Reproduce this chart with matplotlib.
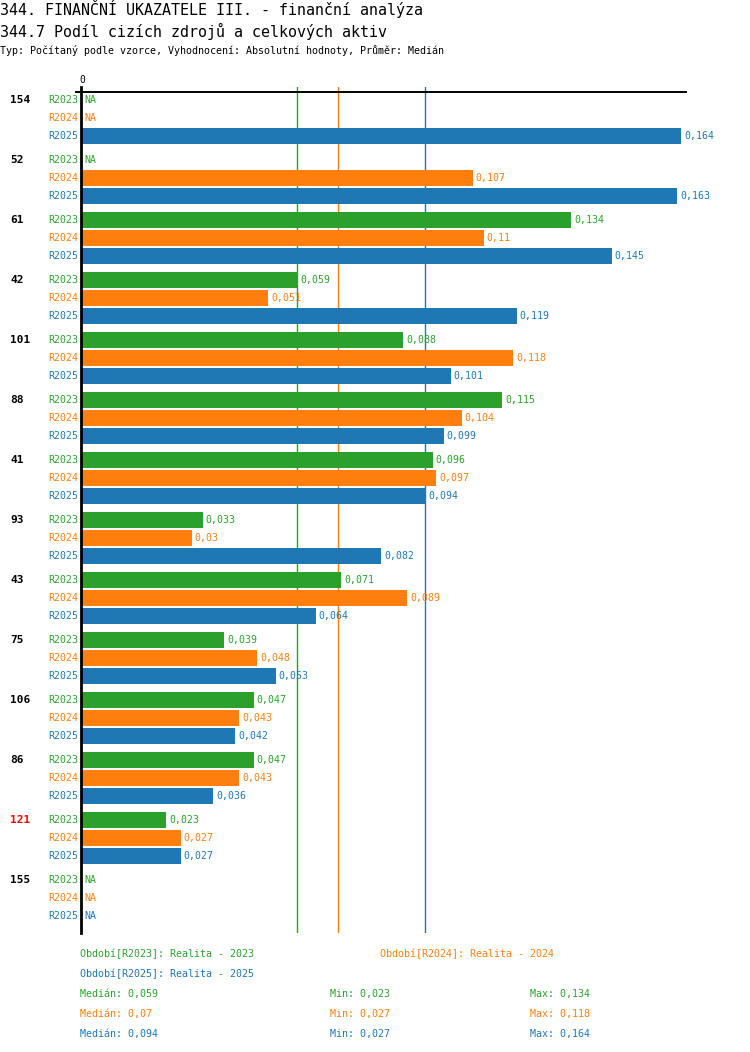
import numpy as np
import matplotlib.pyplot as plt

# data
groups = ['154', '52', '61', '42', '101', '88', '41', '93', '43', '75', '106', '86', '121', '155']
highlight = '121'
series = ['R2023', 'R2024', 'R2025']
r2023 = [np.nan, np.nan, 0.134, 0.059, 0.088, 0.115, 0.096, 0.033, 0.071, 0.039, 0.047, 0.047, 0.023, np.nan]
r2024 = [np.nan, 0.107, 0.11, 0.051, 0.118, 0.104, 0.097, 0.03, 0.089, 0.048, 0.043, 0.043, 0.027, np.nan]
r2025 = [0.164, 0.163, 0.145, 0.119, 0.101, 0.099, 0.094, 0.082, 0.064, 0.053, 0.042, 0.036, 0.027, np.nan]
period_names = ['Realita - 2023', 'Realita - 2024', 'Realita - 2025']

title1 = '344. FINANČNÍ UKAZATELE III. - finanční analýza'
title2 = '344.7 Podíl cizích zdrojů a celkových aktiv'
subtitle = 'Typ: Počítaný podle vzorce, Vyhodnocení: Absolutní hodnoty, Průměr: Medián'

colors = ['#2ca02c', '#ff7f0e', '#1f77b4']
values = [np.array(r2023), np.array(r2024), np.array(r2025)]

plt.rcParams['font.family'] = ['DejaVu Sans Mono']

W, H = 750, 1052
fig = plt.figure(figsize=(W / 100, H / 100), dpi=100)

def ftext(x, y, s, **kw):
    # text placed in figure pixel coordinates (y from top)
    fig.text(x / W, 1 - y / H, s, va='center', **kw)

def fmt(v):
    return f'{round(v, 3):g}'.replace('.', ',')

# plot area in pixels
left, right, top, bottom = 82, 686, 87, 933
ax = fig.add_axes([left / W, 1 - bottom / H, (right - left) / W, (bottom - top) / H])
px = 3652.0                                   # pixels per unit of value
ax.set_xlim(0, (right - left) / px)
ax.set_ylim(bottom, top)
ax.axis('off')

row_h, grp_h, first = 18, 60, 100
for g, name in enumerate(groups):
    y0 = first + g * grp_h
    ax.text(-72 / px, y0, name, ha='left', va='center', fontsize=8, fontweight='bold',
            color='red' if name == highlight else 'black', clip_on=False)
    for j, s in enumerate(series):
        y = y0 + j * row_h
        v = values[j][g]
        ax.text(-4 / px, y, s, ha='right', va='center', fontsize=7.1, color=colors[j], clip_on=False)
        if np.isnan(v):
            ax.text(2 / px, y, 'NA', ha='left', va='center', fontsize=7.1, color=colors[j])
        else:
            ax.barh(y, v, height=16, color=colors[j], zorder=2)
            ax.text(v + 3 / px, y, fmt(v), ha='left', va='center', fontsize=7.1, color=colors[j], clip_on=False)

# median lines, behind the bars
for j in range(3):
    ax.axvline(np.nanmedian(values[j]), color=colors[j], lw=1.0, zorder=1)

ax.axvline(-1.3 / px, color='black', lw=2.0, zorder=4, clip_on=False)
ax.axhline(92, xmin=-6 / (right - left), xmax=1, color='black', lw=1.4, zorder=4, clip_on=False)
ax.text(0, 80, '0', ha='center', va='center', fontsize=7, color='black', clip_on=False)

# titles
ftext(0, 9.5, title1, fontsize=10.8)
ftext(0, 31, title2, fontsize=10.8)
ftext(0, 50, subtitle, fontsize=7.2)

# legend and statistics
leg_pos = [(80, 954), (380, 954), (80, 974)]
for j, s in enumerate(series):
    ftext(leg_pos[j][0], leg_pos[j][1], f'Období[{s}]: {period_names[j]}', fontsize=7.2, color=colors[j])
    y = 994 + 20 * j
    ftext(80, y, f'Medián: {fmt(np.nanmedian(values[j]))}', fontsize=7.2, color=colors[j])
    ftext(330, y, f'Min: {fmt(np.nanmin(values[j]))}', fontsize=7.2, color=colors[j])
    ftext(530, y, f'Max: {fmt(np.nanmax(values[j]))}', fontsize=7.2, color=colors[j])

fig.savefig('out.png', dpi=100)
